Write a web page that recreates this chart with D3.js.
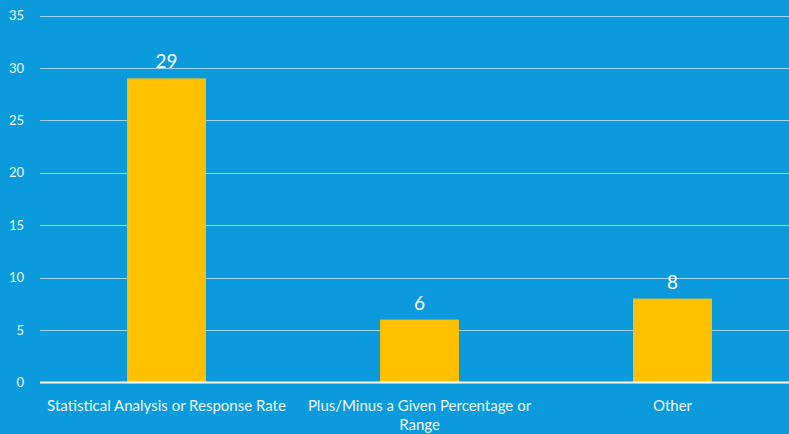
<!DOCTYPE html>
<html><head><meta charset="utf-8">
<script src="https://cdn.jsdelivr.net/npm/d3@7"></script>
<style>body{margin:0;background:#0B9ADB;}svg{display:block;}</style>
</head><body><svg id="c" width="789" height="434"></svg>
<script>
const categories = ["Statistical Analysis or Response Rate", "Plus/Minus a Given Percentage or Range", "Other"];
const values = [29, 6, 8];
const yTicks = [0, 5, 10, 15, 20, 25, 30, 35];

const W = 789, H = 434;
const m = {left: 40, top: 15.5, bottom: 382.5};
const svg = d3.select("#c");
svg.append("rect").attr("width", W).attr("height", H).attr("fill", "#0B9ADB");

const x = d3.scaleBand().domain(categories).range([40, 799]).paddingInner(0.688).paddingOuter(0.344);
const y = d3.scaleLinear().domain([0, 35]).range([m.bottom, m.top]);
const font = "Lato, 'Open Sans', sans-serif";

// gridlines
svg.append("g").selectAll("line").data(yTicks.filter(d => d > 0)).join("line")
  .attr("x1", 40).attr("x2", W).attr("y1", d => Math.round(y(d)) + 0.5).attr("y2", d => Math.round(y(d)) + 0.5)
  .attr("stroke", "#9fd3f0").attr("stroke-width", 1);

// y axis labels
const ya = svg.append("g").attr("transform", "translate(40,0)")
  .call(d3.axisLeft(y).tickValues(yTicks).tickSize(0).tickPadding(16));
ya.select(".domain").remove();
ya.selectAll("text").attr("font-family", font).attr("font-size", 13).attr("fill", "#eef7fc");

// bars
svg.append("g").selectAll("rect").data(values).join("rect")
  .attr("x", (d, i) => x(categories[i])).attr("width", x.bandwidth())
  .attr("y", d => y(d)).attr("height", d => y(0) - y(d)).attr("fill", "#FFC000");

// baseline
svg.append("line").attr("x1", 40).attr("x2", W).attr("y1", y(0)).attr("y2", y(0))
  .attr("stroke", "#ffffff").attr("stroke-width", 2);

// value labels
svg.append("g").selectAll("text").data(values).join("text")
  .attr("x", (d, i) => x(categories[i]) + x.bandwidth() / 2).attr("y", d => y(d) - 10)
  .attr("text-anchor", "middle").attr("font-family", font).attr("font-size", 19).attr("fill", "#ffffff")
  .text(d => d);

// x axis labels
const xa = svg.append("g").attr("transform", `translate(0,${y(0)})`)
  .call(d3.axisBottom(x).tickSize(0).tickPadding(0));
xa.select(".domain").remove();
xa.selectAll("text").attr("font-family", font).attr("font-size", 15).attr("fill", "#eef7fc")
  .attr("dy", null).attr("y", 0)
  .each(function(d) {
    const t = d3.select(this); t.text(null);
    const lines = d === categories[1] ? ["Plus/Minus a Given Percentage or", "Range"] : [d];
    lines.forEach((l, i) => t.append("tspan").attr("x", 0).attr("y", 28 + i * 19).text(l));
  });
</script></body></html>
